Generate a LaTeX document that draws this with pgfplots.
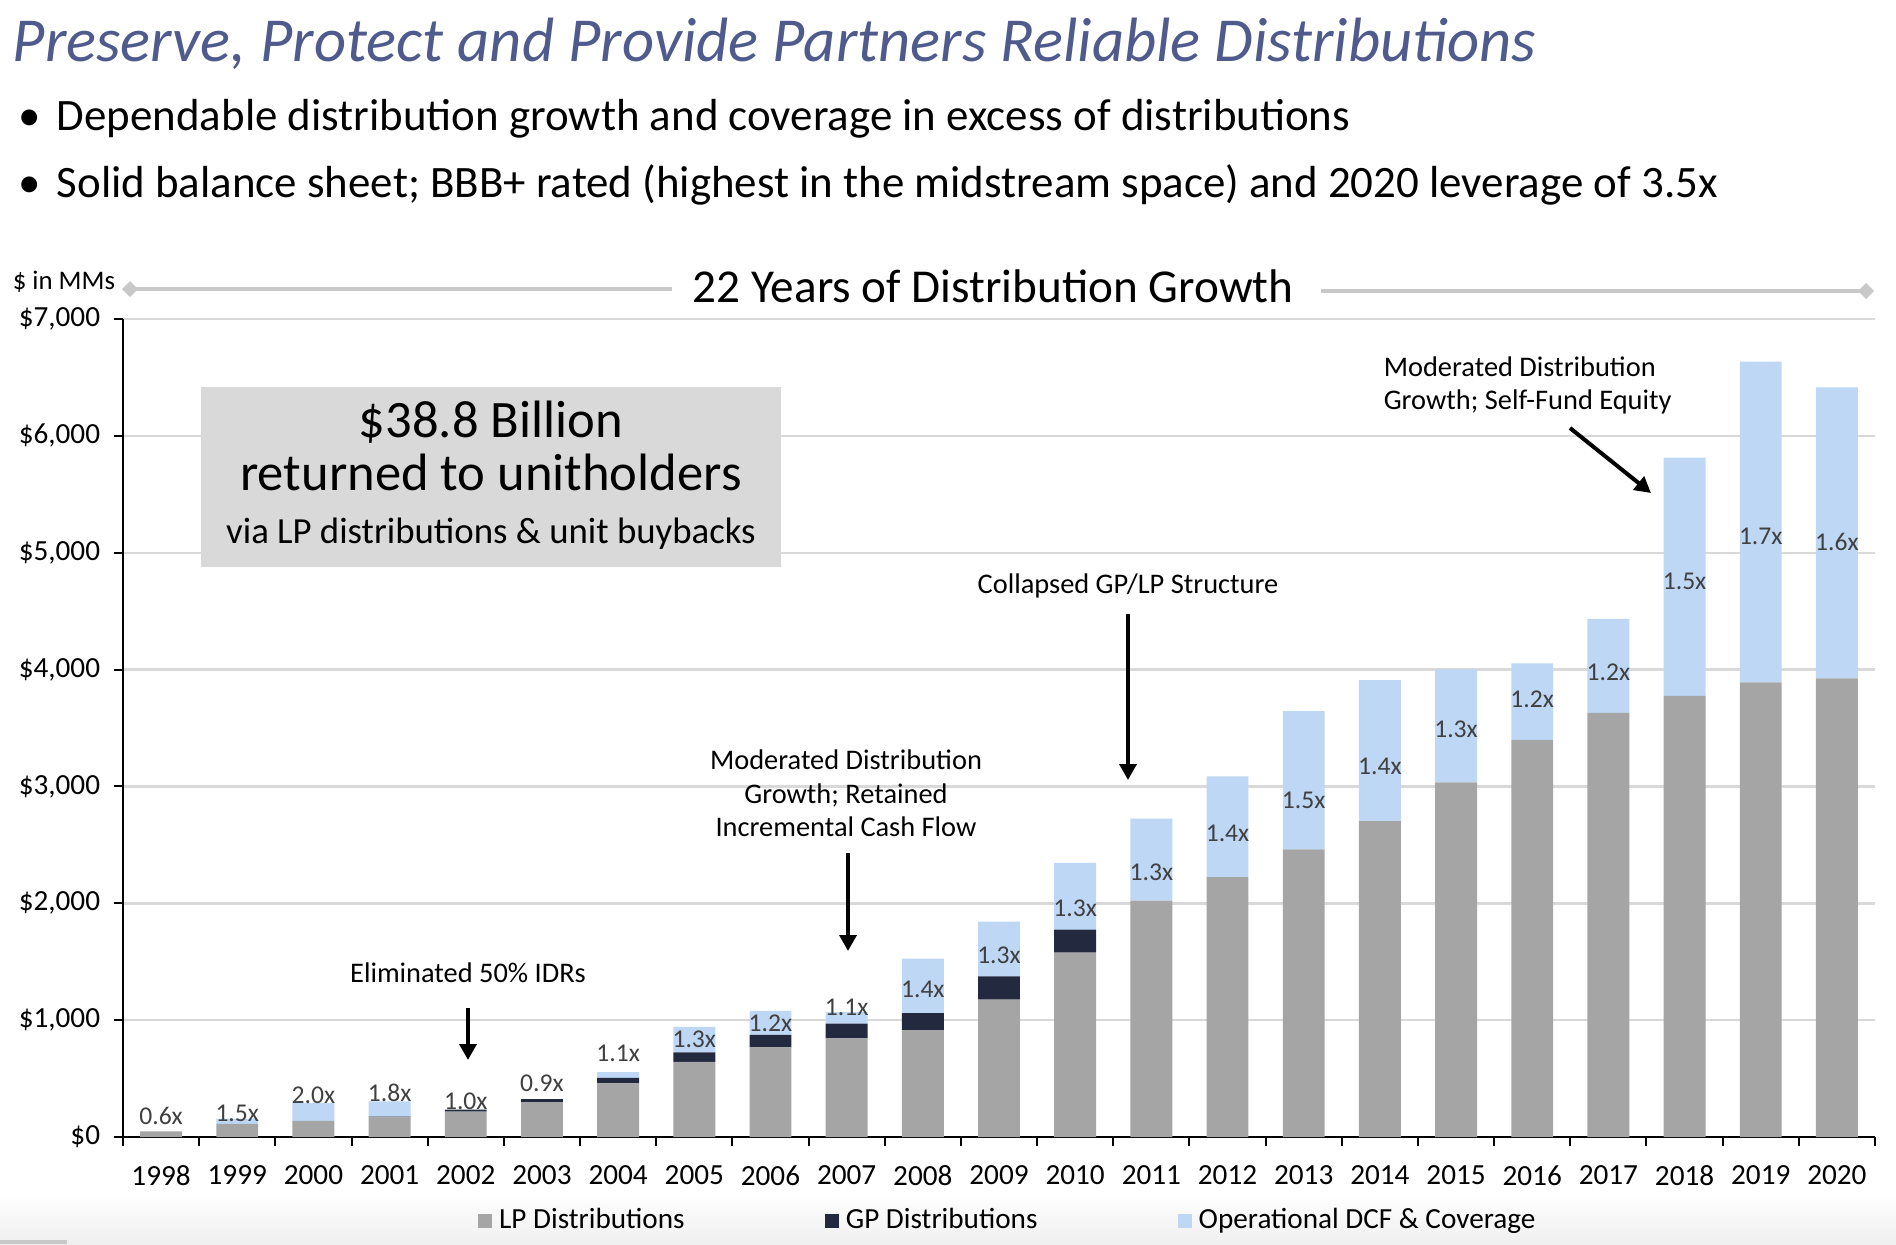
\documentclass[border=0pt]{standalone}
\usepackage{pgfplots}
\pgfplotsset{compat=1.18}
\usepackage{pgfplotstable}
\usepackage{fontspec}
\setmainfont{Carlito}
\usetikzlibrary{arrows.meta}

\definecolor{lpgrey}{HTML}{A5A5A5}
\definecolor{gpnavy}{HTML}{232A40}
\definecolor{dcfblue}{HTML}{BDD7F5}
\definecolor{titleblue}{HTML}{4F5B8C}
\definecolor{gridgrey}{HTML}{D9D9D9}
\definecolor{boxgrey}{HTML}{D9D9D9}
\definecolor{labgrey}{HTML}{404040}
\definecolor{rulegrey}{HTML}{C8C8C8}
\definecolor{footgrey}{HTML}{EFEFEF}

\pgfplotstableread{
idx LP GP DCF
0 49 0 0
1 112 0 46
2 138 0 152
3 169 5 130
4 218 17 0
5 298 26 0
6 459 48 49
7 644 81 217
8 768 106 206
9 845 126 98
10 914 147 466
11 1175 200 469
12 1578 197 572
13 2024 0 701
14 2224 0 863
15 2461 0 1184
16 2704 0 1205
17 3036 0 966
18 3399 0 655
19 3630 0 804
20 3776 0 2039
21 3891 0 2744
22 3925 0 2490
}\data

\pgfplotstableread{
idx ly lab
0 183 0.6x
1 203 1.5x
2 354 2.0x
3 375 1.8x
4 309 1.0x
5 460 0.9x
6 712 1.1x
7 838 1.3x
8 975 1.2x
9 1112 1.1x
10 1267 1.4x
11 1558 1.3x
12 1961 1.3x
13 2267 1.3x
14 2596 1.4x
15 2882 1.5x
16 3176 1.4x
17 3485 1.3x
18 3748 1.2x
19 3979 1.2x
20 4751 1.5x
21 5137 1.7x
22 5094 1.6x
}\labels

\newcommand{\tickfont}{\fontsize{7.3}{8.8}\selectfont}
\newcommand{\barfont}{\fontsize{6.4}{7.7}\selectfont}
\newcommand{\annfont}{\fontsize{7.1}{8.5}\selectfont}
\newcommand{\titlefont}{\fontsize{15.65}{18.8}\selectfont}
\newcommand{\bulletfont}{\fontsize{11.23}{13.5}\selectfont}
\newcommand{\headfont}{\fontsize{11.8}{14.2}\selectfont}
\newcommand{\bigfont}{\fontsize{13.15}{15.8}\selectfont}
\newcommand{\midfont}{\fontsize{9.2}{11}\selectfont}
\newcommand{\smallfont}{\fontsize{6.7}{8}\selectfont}

\begin{document}
\begin{tikzpicture}
\begin{scope}[x=0.25pt,y=-0.25pt]
\useasboundingbox (0,0) rectangle (1896,1244);
\shade[top color=white, bottom color=footgrey] (0,1195) rectangle (1896,1244);
\fill[rulegrey] (0,1240) rectangle (67,1244);
\end{scope}

\begin{axis}[
  at={(30.75pt,-284.25pt)}, anchor=south west,
  scale only axis, width=438pt, height=204.5pt,
  ybar stacked, bar width=0.55,
  xmin=-0.5, xmax=22.5, ymin=0, ymax=7000,
  axis lines*=left,
  axis line style={-, black, line width=0.6pt},
  tick align=outside,
  xtick={-0.5,0.5,...,22.5}, xticklabels={},
  major tick length=2.2pt,
  tick style={black, line width=0.5pt},
  extra x ticks={0,...,22},
  extra x tick labels={1998,1999,2000,2001,2002,2003,2004,2005,2006,2007,2008,2009,2010,2011,2012,2013,2014,2015,2016,2017,2018,2019,2020},
  extra x tick style={major tick length=0pt},
  xticklabel style={yshift=-3.7pt},
  ytick={0,1000,...,7000},
  yticklabels={{\$0},{\$1,000},{\$2,000},{\$3,000},{\$4,000},{\$5,000},{\$6,000},{\$7,000}},
  ymajorgrids, grid style={gridgrey, line width=0.6pt},
  tick label style={font=\tickfont},
  legend columns=3,
  legend style={at={(0.2026,-0.103)}, anchor=west, draw=none, fill=none,
    inner sep=0pt, outer sep=0pt,
    font=\tickfont, nodes={inner sep=0pt, outer sep=0pt},
    /tikz/every odd column/.append style={column sep=1.8pt},
    /tikz/every even column/.append style={column sep=35pt}},
  legend image code/.code={\fill[#1] (0pt,-1.75pt) rectangle (3.5pt,1.75pt);},
]
\addplot[fill=lpgrey, draw=none] table[x=idx, y=LP] {\data};
\addlegendentry{LP Distributions}
\addplot[fill=gpnavy, draw=none] table[x=idx, y=GP] {\data};
\addlegendentry{GP Distributions}
\addplot[fill=dcfblue, draw=none] table[x=idx, y=DCF] {\data};
\addlegendentry{Operational DCF \& Coverage}
\end{axis}

\begin{axis}[
  at={(30.75pt,-284.25pt)}, anchor=south west,
  scale only axis, width=438pt, height=204.5pt,
  xmin=-0.5, xmax=22.5, ymin=0, ymax=7000,
  hide axis, clip=false,
]
\addplot[draw=none, mark=none, nodes near coords, point meta=explicit symbolic,
  every node near coord/.style={font=\barfont, text=labgrey, inner sep=0pt, anchor=center}]
  table[x=idx, y=ly, meta=lab] {\labels};
\end{axis}

\begin{scope}[x=0.25pt,y=-0.25pt]
% title and bullets
\node[anchor=base west, inner sep=0pt, text=titleblue, font=\titlefont\itshape] at (12,61) {Preserve, Protect and Provide Partners Reliable Distributions};
\node[anchor=base west, inner sep=0pt, font=\bulletfont] at (18,130) {\textbullet};
\node[anchor=base west, inner sep=0pt, font=\bulletfont] at (56,130) {Dependable distribution growth and coverage in excess of distributions};
\node[anchor=base west, inner sep=0pt, font=\bulletfont] at (18,197) {\textbullet};
\node[anchor=base west, inner sep=0pt, font=\bulletfont] at (56,197) {Solid balance sheet; BBB+ rated (highest in the midstream space) and 2020 leverage of 3.5x};

% header line
\node[anchor=base west, inner sep=0pt, font=\smallfont] at (12,289) {\$ in MMs};
\draw[rulegrey, line width=0.8pt] (130,289) -- (672,289);
\fill[rulegrey] (130,281) -- (138,289) -- (130,297) -- (122,289) -- cycle;
\draw[rulegrey, line width=0.8pt] (1321,291) -- (1866,291);
\fill[rulegrey] (1866,283) -- (1874,291) -- (1866,299) -- (1858,291) -- cycle;
\node[anchor=base west, inner sep=0pt, font=\headfont] at (692,302) {22 Years of Distribution Growth};

% box
\fill[boxgrey] (201,387) rectangle (781,567);
\node[anchor=base, inner sep=0pt, font=\bigfont] at (491,437) {\$38.8 Billion};
\node[anchor=base, inner sep=0pt, font=\bigfont] at (491,490) {returned to unitholders};
\node[anchor=base, inner sep=0pt, font=\midfont] at (491,543) {via LP distributions \& unit buybacks};

% annotations
\node[anchor=base west, inner sep=0pt, font=\annfont] at (1383,376) {Moderated Distribution};
\node[anchor=base west, inner sep=0pt, font=\annfont] at (1383,409) {Growth; Self-Fund Equity};
\node[anchor=base, inner sep=0pt, font=\annfont] at (1128,593) {Collapsed GP/LP Structure};
\node[anchor=base, inner sep=0pt, font=\annfont] at (846,769) {Moderated Distribution};
\node[anchor=base, inner sep=0pt, font=\annfont] at (846,803) {Growth; Retained};
\node[anchor=base, inner sep=0pt, font=\annfont] at (846,836) {Incremental Cash Flow};
\node[anchor=base, inner sep=0pt, font=\annfont] at (468,982) {Eliminated 50\% IDRs};
\draw[line width=1pt, -{Triangle[length=4pt,width=4.2pt]}] (1570,428) -- (1651,493);
\draw[line width=1pt, -{Triangle[length=4pt,width=4.2pt]}] (1128,614) -- (1128,780);
\draw[line width=1pt, -{Triangle[length=4pt,width=4.2pt]}] (848,853) -- (848,951);
\draw[line width=1pt, -{Triangle[length=4pt,width=4.2pt]}] (468,1008) -- (468,1060);
\end{scope}
\end{tikzpicture}
\end{document}
